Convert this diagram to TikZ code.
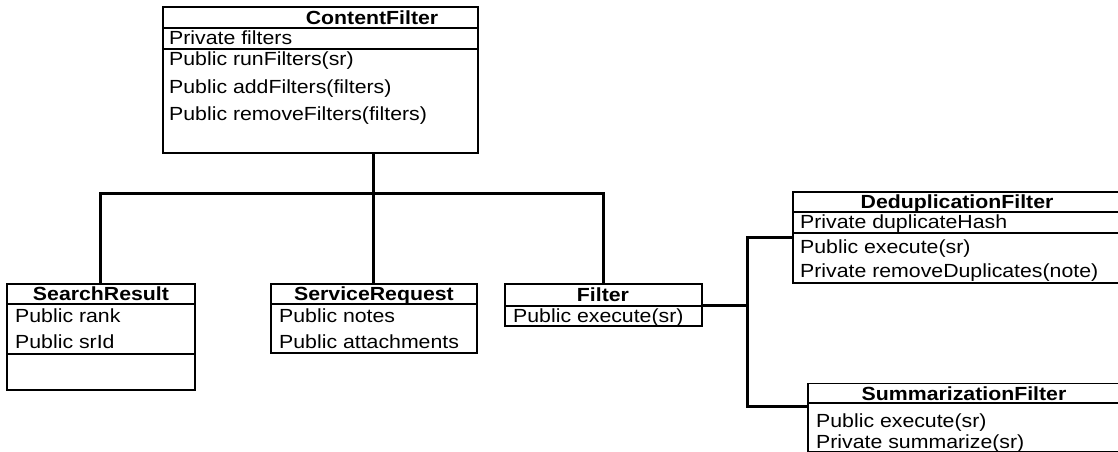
\documentclass[tikz,border=0pt]{standalone}
\usepackage{fontspec}
\setmainfont{Liberation Sans}[FakeStretch=1.12]
\begin{document}
\begin{tikzpicture}[x=1pt,y=-1pt,
  box/.style={draw=black, line width=1.7pt, rectangle, inner sep=0pt},
  sep/.style={line width=1.7pt},
  conn/.style={line width=3pt, line join=miter},
  title/.style={font=\fontsize{19}{23}\selectfont\bfseries, inner sep=0pt, anchor=base},
  row/.style={font=\fontsize{19}{23}\selectfont, inner sep=0pt, anchor=base west}]
\useasboundingbox (0,0) rectangle (1118,452);
\clip (0,0) rectangle (1118,452);

% ContentFilter
\node[box, minimum width=315pt, minimum height=146pt] (cf) at (320.5,80) {};
\draw[sep] (cf.west |- 0,28) -- (cf.east |- 0,28);
\draw[sep] (cf.west |- 0,49) -- (cf.east |- 0,49);
\node[title] (cft) at (372,25) {ContentFilter};
\node[row] (cf1) at (169,45) {Private filters};
\node[row] (cf2) at (169,66) {Public runFilters(sr)};
\node[row] (cf3) at (169,93) {Public addFilters(filters)};
\node[row] (cf4) at (169,120) {Public removeFilters(filters)};

% SearchResult
\node[box, minimum width=188pt, minimum height=106pt] (sr) at (101,337) {};
\draw[sep] (sr.west |- 0,304) -- (sr.east |- 0,304);
\draw[sep] (sr.west |- 0,354) -- (sr.east |- 0,354);
\node[title] (srt) at (101,300) {SearchResult};
\node[row] (sr1) at (15,322) {Public rank};
\node[row] (sr2) at (15,348) {Public srId};

% ServiceRequest
\node[box, minimum width=206pt, minimum height=69pt] (svc) at (374,318.5) {};
\draw[sep] (svc.west |- 0,304) -- (svc.east |- 0,304);
\node[title] (svct) at (374,300) {ServiceRequest};
\node[row] (svc1) at (279,322) {Public notes};
\node[row] (svc2) at (279,348) {Public attachments};

% Filter
\node[box, minimum width=197pt, minimum height=42pt] (flt) at (603.5,305) {};
\draw[sep] (flt.west |- 0,306) -- (flt.east |- 0,306);
\node[title] (fltt) at (603,301) {Filter};
\node[row] (flt1) at (513,322) {Public execute(sr)};

% DeduplicationFilter
\node[box, minimum width=337pt, minimum height=91pt] (dd) at (961.5,237.5) {};
\draw[sep] (dd.west |- 0,212) -- (dd.east |- 0,212);
\draw[sep] (dd.west |- 0,233) -- (dd.east |- 0,233);
\node[title] (ddt) at (957,208) {DeduplicationFilter};
\node[row] (dd1) at (800,228) {Private duplicateHash};
\node[row] (dd2) at (800,253) {Public execute(sr)};
\node[row] (dd3) at (800,277) {Private removeDuplicates(note)};

% SummarizationFilter
\node[box, minimum width=322pt, minimum height=68pt] (sum) at (969,417.5) {};
\draw[sep] (sum.west |- 0,403) -- (sum.east |- 0,403);
\node[title] (sumt) at (964,400) {SummarizationFilter};
\node[row] (sum1) at (816,427) {Public execute(sr)};
\node[row] (sum2) at (816,448) {Private summarize(sr)};

% connectors
\coordinate (jc) at (373,193);
\coordinate (jl) at (100,193);
\coordinate (jr) at (603,193);
\coordinate (fx) at (747,305);
\coordinate (fu) at (747,237);
\coordinate (fd) at (747,406);

\draw[conn] (cf.south -| jc) -- (svc.north -| jc);
\draw[conn] (sr.north -| jl) -- (jl) -- (jr) -- (flt.north -| jr);
\draw[conn] (flt.east |- fx) -- (fx);
\draw[conn] (dd.west |- fu) -- (fu) -- (fd) -- (sum.west |- fd);
\end{tikzpicture}
\end{document}
